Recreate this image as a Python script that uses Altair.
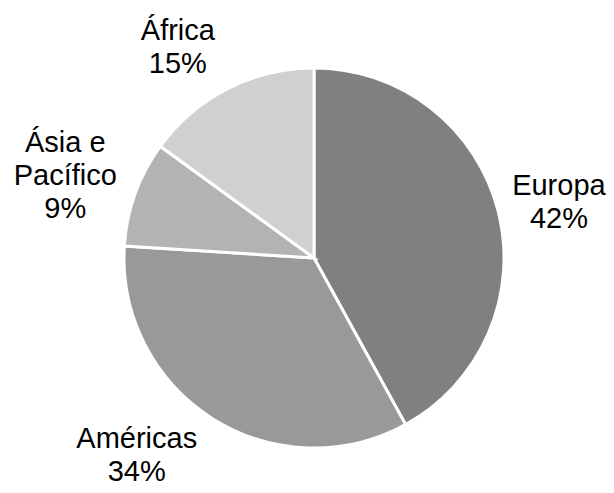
import altair as alt
import pandas as pd

regions = ["Europa", "Américas", "Ásia e Pacífico", "África"]
shares = [42, 34, 9, 15]
label_names = ["Europa", "Américas", "Ásia e\nPacífico", "África"]
colors = ["#808080", "#999999", "#b3b3b3", "#d0d0d0"]

df = pd.DataFrame({
    "region": regions,
    "share": shares,
    "order": list(range(len(regions))),
    "label": [f"{n}\n{s}%" for n, s in zip(label_names, shares)],
})

base = alt.Chart(df).encode(
    theta=alt.Theta("share:Q", stack=True),
    order=alt.Order("order:Q"),
)

cx, cy = 306, 250

pie = base.mark_arc(outerRadius=190, stroke="white", strokeWidth=3).encode(
    color=alt.Color("region:N", scale=alt.Scale(domain=regions, range=colors), legend=None),
    x=alt.value(cx), y=alt.value(cy),
)

# label nudges (Excel-style best-fit placement)
nudges = {
    "Europa": (-5, -8),
    "Américas": (-39, -37),
    "Ásia e Pacífico": (-6, -28),
    "África": (-19, 3),
}

layers = [pie]
for reg, (ddx, ddy) in nudges.items():
    layers.append(
        base.mark_text(
            radius=258, fontSize=29, font="Liberation Sans", lineBreak="\n",
            lineHeight=33, align="center", baseline="middle", color="black",
            dx=ddx, dy=ddy,
        ).encode(
            text=alt.condition(alt.datum.region == reg, "label:N", alt.value("")),
            x=alt.value(cx), y=alt.value(cy),
        )
    )

chart = alt.layer(*layers).properties(
    width=598, height=477, padding=0,
    autosize=alt.AutoSizeParams(type="none"),
).configure_view(stroke=None)
chart.save("out.html", embed_options={"renderer": "svg", "actions": False})
